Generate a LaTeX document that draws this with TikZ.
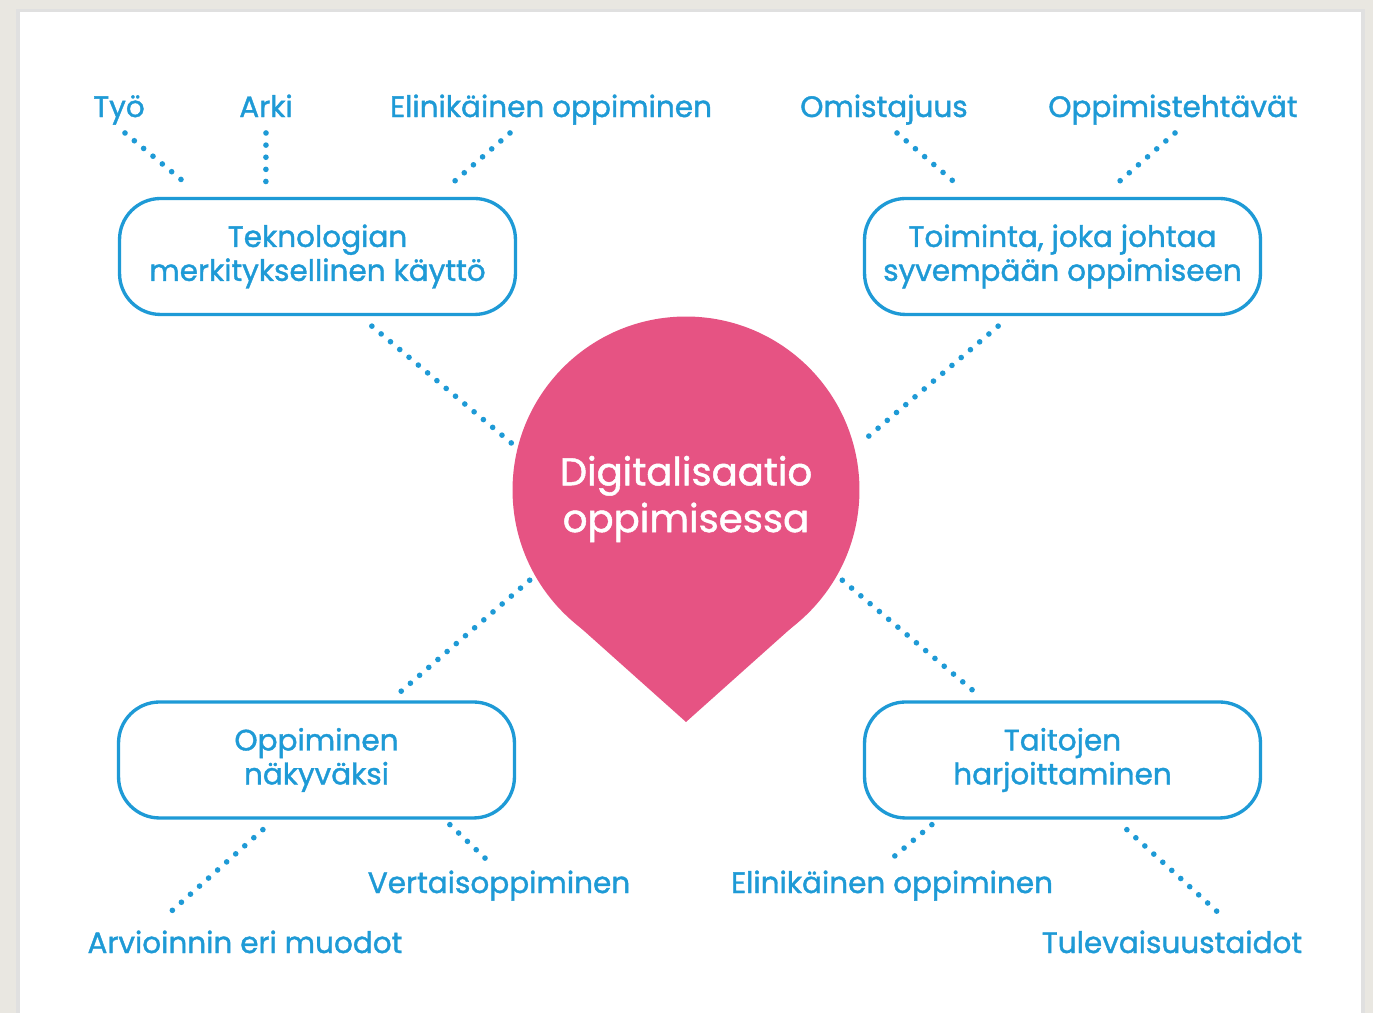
\documentclass[tikz,border=0pt]{standalone}
\usepackage{fontspec}
\setmainfont{Poppins}
\newfontfamily\medfont{Poppins}[FakeBold=1.3]
\usetikzlibrary{calc,positioning}
\definecolor{paper}{HTML}{E9E7E1}
\definecolor{lineblue}{HTML}{1E9AD6}
\definecolor{droppink}{HTML}{E65383}

\begin{document}
\begin{tikzpicture}[x=0.02cm, y=0.02cm,
  leaf/.style={text=lineblue, font=\medfont\fontsize{16.8}{19}\selectfont, inner sep=0pt, text height=11pt, text depth=3pt},
  topic/.style={draw=lineblue, line width=1.9pt, rounded corners=0.82cm, minimum width=7.92cm, minimum height=2.32cm, align=center, text=lineblue, font=\medfont\fontsize{16.8}{19.3}\selectfont},
  dotline/.style={draw=lineblue, line width=3.2pt, line cap=round, dash pattern=on 0pt off 6.9pt}]
\useasboundingbox (0,0) rectangle (1373,1013);
\fill[paper] (0,0) rectangle (1373,1013);
\fill[black!12] (16,-5) rectangle (1365,1004);
\fill[white] (20,-5) rectangle (1361,1001);

\node[leaf] (tyo) at (119,903) {Työ};
\node[leaf] (arki) at (266,903) {Arki};
\node[leaf] (elin1) at (551,903) {Elinikäinen oppiminen};
\node[leaf] (omist) at (884,903) {Omistajuus};
\node[leaf] (tehtavat) at (1173,903) {Oppimistehtävät};

\node[topic] (tekno) at (317.5,756.5) {Teknologian\\merkityksellinen käyttö};
\node[topic] (toiminta) at (1062.5,756.5) {Toiminta, joka johtaa\\syvempään oppimiseen};
\node[topic] (nakyv) at (316.5,253) {Oppiminen\\näkyväksi};
\node[topic] (taidot) at (1062.5,253) {Taitojen\\harjoittaminen};

\node[circle, fill=droppink, minimum size=6.94cm, inner sep=0pt, outer sep=4pt] (drop) at (686,523) {};
\coordinate (tip) at (686,291);
\fill[droppink] ($(drop.center)+(-48:173)$) -- (tip) -- ($(drop.center)+(-132:173)$) -- cycle;
\node[align=center, text=white, font=\medfont\fontsize{22}{26.6}\selectfont] (title) at ($(drop.center)+(0,-9)$) {Digitalisaatio\\oppimisessa};

\node[leaf] (vertais) at (499,127) {Vertaisoppiminen};
\node[leaf] (elin2) at (892,127) {Elinikäinen oppiminen};
\node[leaf] (arviointi) at (245,67) {Arvioinnin eri muodot};
\node[leaf] (tulevaisuus) at (1172,67) {Tulevaisuustaidot};

\draw[dotline] ($(tyo)+(6,-23)$) -- ($(tekno.north west)+(72,10)$);
\draw[dotline] ($(arki)+(0,-23)$) -- ($(tekno.north west)+(148,10)$);
\draw[dotline] ($(elin1)+(-41,-23)$) -- ($(tekno.north east)+(-69,10)$);
\draw[dotline] ($(omist)+(13,-23)$) -- ($(toiminta.north west)+(97,10)$);
\draw[dotline] ($(tehtavat)+(2,-23)$) -- ($(toiminta.north east)+(-149,10)$);
\draw[dotline] ($(tekno.south west)+(254,-10)$) -- (drop.165);
\draw[dotline] ($(toiminta.south east)+(-264,-10)$) -- (drop.15);
\draw[dotline] (drop.210) -- ($(nakyv.north west)+(283,8)$);
\draw[dotline] (drop.-30) -- ($(taidot.north east)+(-287,8)$);
\draw[dotline] ($(nakyv.south west)+(146,-10)$) -- ($(arviointi)+(-79,30)$);
\draw[dotline] ($(nakyv.south west)+(333,-5)$) -- ($(vertais)+(-12,26)$);
\draw[dotline] ($(taidot.south west)+(69,-5)$) -- ($(elin2)+(-2,26)$);
\draw[dotline] ($(taidot.south west)+(264,-10)$) -- ($(tulevaisuus)+(50,30)$);
\end{tikzpicture}
\end{document}
